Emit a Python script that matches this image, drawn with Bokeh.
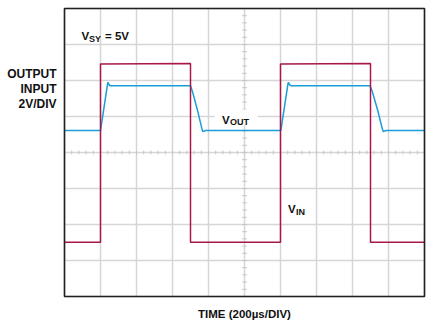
import numpy as np
from bokeh.plotting import figure
from bokeh.models import Label
from bokeh.embed import file_html
from bokeh.resources import INLINE

# ---- data: time in µs (200 µs/div), voltage in V (2 V/div) ----
vin_time = [0, 200, 200, 700, 700, 1200, 1200, 1700, 1700, 2000]
vin_volt = [-4.98, -4.98, 4.92, 4.95, -4.98, -4.98, 4.92, 4.95, -4.98, -4.98]

vout_time = [0, 200, 240, 243, 246, 252, 700, 712, 740, 764, 768, 776, 784,
             1202, 1242, 1245, 1248, 1256, 1698, 1710, 1740, 1766, 1771, 1779, 1787, 2000]
vout_volt = [1.22, 1.22, 3.85, 3.89, 3.80, 3.71, 3.71, 3.35, 2.30, 1.30, 1.17, 1.20, 1.22,
             1.22, 3.85, 3.89, 3.80, 3.71, 3.71, 3.38, 2.35, 1.30, 1.16, 1.20, 1.22, 1.22]

x_divs = [200 * i for i in range(11)]          # time graticule (µs)
y_divs = [-8, -6, -4, -2, 0, 2, 4, 6, 8]       # voltage graticule (V)
t_min, t_max = 0, 2000
v_min, v_max = -8, 8

RED = "#a8174a"
BLUE = "#1a9dd9"
GRID = "#d6d6d6"
TICK = "#c6c6c6"
FONT = "Liberation Sans"

W, H = 440, 320
# graticule occupies pixels 64..424 (x) and 8..296 (y)
def X(px):
    return t_min + (px - 64) / 360 * (t_max - t_min)

def Y(py):
    return v_max - (py - 8) / 288 * (v_max - v_min)

p = figure(width=W, height=H, x_range=(X(0), X(W)), y_range=(Y(H), Y(0)),
           output_backend="svg", toolbar_location=None,
           min_border_left=0, min_border_right=0, min_border_top=0, min_border_bottom=0)
p.axis.visible = False
p.grid.visible = False
p.outline_line_color = None
p.background_fill_color = "white"
p.border_fill_color = "white"

# graticule
p.segment(x0=x_divs, y0=v_min, x1=x_divs, y1=v_max, line_color=GRID, line_width=1.5)
p.segment(x0=t_min, y0=y_divs, x1=t_max, y1=y_divs, line_color=GRID, line_width=1.5)

# minor ticks on the centre graticule lines
t_mid = (t_min + t_max) / 2
hx = np.arange(t_min, t_max + 1, (t_max - t_min) / 50)
p.segment(x0=hx, y0=-0.11, x1=hx, y1=0.11, line_color=TICK, line_width=1)
vy = np.arange(v_min, v_max + 0.01, 0.4)
p.segment(x0=t_mid - 13, y0=vy, x1=t_mid + 13, y1=vy, line_color=TICK, line_width=1)

# white backing behind the V_OUT label
p.quad(left=X(214), right=X(257), top=Y(109), bottom=Y(124),
       fill_color="white", line_color=None)

p.line(vout_time, vout_volt, line_color=BLUE, line_width=1.5)
p.line(vin_time, vin_volt, line_color=RED, line_width=1.5)

# frame
p.quad(left=t_min, right=t_max, bottom=v_min, top=v_max,
       fill_color=None, line_color="#231f20", line_width=1.6)

def lab(text, px, py, size, align="left"):
    p.add_layout(Label(x=X(px), y=Y(py), text=text, text_font=FONT, text_font_style="bold",
                       text_font_size=size, text_color="#111111", text_align=align,
                       text_baseline="alphabetic"))

lab("V", 81, 35.7, "11.5px")
lab("SY", 88.5, 38.5, "9px")
lab("= 5V", 104.5, 35.7, "11.5px")

lab("V", 221.5, 119, "11.5px")
lab("OUT", 229.5, 121.5, "9px")

lab("V", 287.5, 208, "11.5px")
lab("IN", 295.5, 211, "9px")

lab("OUTPUT", 56, 73.3, "12px", "right")
lab("INPUT", 56, 88.3, "12px", "right")
lab("2V/DIV", 56, 103.3, "12px", "right")

lab("TIME (200µs/DIV)", 244, 313, "11.5px", "center")

open("out.html", "w").write(file_html(p, INLINE))
